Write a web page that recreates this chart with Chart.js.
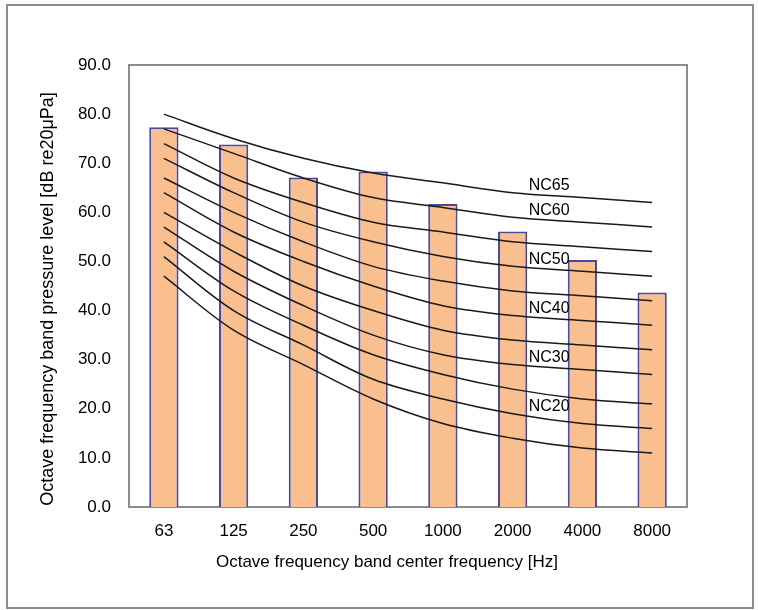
<!DOCTYPE html>
<html>
<head>
<meta charset="utf-8">
<script src="https://cdn.jsdelivr.net/npm/chart.js@4/dist/chart.umd.min.js"></script>
<style>
  body { margin: 0; background: #fff; }
  #wrap { position: relative; width: 758px; height: 610px; }
  #frame { position: absolute; left: 6px; top: 4px; width: 744px; height: 601px; border: 2px solid #8c8c8c; pointer-events: none; }
  canvas { position: absolute; left: 0; top: 0; }
</style>
</head>
<body>
<div id="wrap">
  <canvas id="nc" width="758" height="610"></canvas>
  <div id="frame"></div>
</div>
<script>
// octave bands
const bands = ["63", "125", "250", "500", "1000", "2000", "4000", "8000"]

// measured levels (bars)
const measured = [77.3, 73.8, 67.1, 68.3, 61.7, 56.1, 50.3, 43.7]

// NC curves
const nc15 = [47, 36, 29, 22, 17, 14, 12, 11]
const nc20 = [51, 40, 33, 26, 22, 19, 17, 16]
const nc25 = [54, 44, 37, 31, 27, 24, 22, 21]
const nc30 = [57, 48, 41, 35, 31, 29, 28, 27]
const nc35 = [60, 52, 45, 40, 36, 34, 33, 32]
const nc40 = [64, 56, 50, 45, 41, 39, 38, 37]
const nc45 = [67, 60, 54, 49, 46, 44, 43, 42]
const nc50 = [71, 64, 58, 54, 51, 49, 48, 47]
const nc55 = [74, 67, 62, 58, 56, 54, 53, 52]
const nc60 = [77, 72, 67, 63, 61, 59, 58, 57]
const nc65 = [80, 75, 71, 68, 66, 64, 63, 62]

const curves = [nc15, nc20, nc25, nc30, nc35, nc40, nc45, nc50, nc55, nc60, nc65]
const labelled = [65, 60, 50, 40, 30, 20]

const xTitle = 'Octave frequency band center frequency [Hz]'
const yTitle = 'Octave frequency band pressure level [dB re20μPa]'

const family = "'Liberation Sans', Arial, sans-serif"
const tickFont = { family: family, size: 17 }

const datasets = [{
    type: 'bar',
    data: measured,
    backgroundColor: '#f9bf8f',
    borderColor: '#4a4a9c',
    borderWidth: 2,
    borderSkipped: 'bottom',
    categoryPercentage: 1,
    barPercentage: 0.42,
    order: 2
}]

curves.forEach(c => datasets.push({
    type: 'line',
    data: c,
    borderColor: '#1a1a1a',
    borderWidth: 1.5,
    pointRadius: 0,
    tension: 0.35,
    fill: false,
    order: 1
}))

// plot box (gray), axis titles, NC labels
const extras = {
    id: 'extras',
    beforeDatasetsDraw(chart) {
        const {ctx, chartArea: a} = chart
        ctx.save()
        ctx.strokeStyle = '#8c8c8c'
        ctx.lineWidth = 2
        ctx.strokeRect(a.left, a.top, a.right - a.left, a.bottom - a.top)
        ctx.restore()
    },
    afterDatasetsDraw(chart) {
        const {ctx, chartArea: a} = chart
        ctx.save()
        ctx.fillStyle = '#000'
        ctx.textBaseline = 'middle'

        // NC labels
        const x = chart.scales.x.getPixelForValue(5) + 16
        ctx.font = "16px " + family
        ctx.textAlign = 'left'
        labelled.forEach(n => {
            ctx.fillText('NC' + n, x, chart.scales.y.getPixelForValue(n) - 2)
        })

        // axis titles
        ctx.textAlign = 'center'
        ctx.font = "17px " + family
        ctx.fillText(xTitle, (a.left + a.right) / 2 - 21, a.bottom + 55)
        ctx.translate(48, (a.top + a.bottom) / 2 + 13)
        ctx.rotate(-Math.PI / 2)
        ctx.font = "18px " + family
        ctx.fillText(yTitle, 0, 0)
        ctx.restore()
    }
}

new Chart(document.querySelector('#nc'), {
    type: 'bar',
    data: { labels: bands, datasets: datasets },
    options: {
        responsive: false,
        animation: false,
        layout: { padding: { left: 30, top: 65, right: 71, bottom: 39 } },
        plugins: { legend: { display: false }, tooltip: { enabled: false } },
        scales: {
            x: {
                grid: { display: false, drawTicks: false },
                border: { display: true, color: '#000', width: 2 },
                ticks: { color: '#000', font: tickFont, padding: 14 },
                afterFit: s => { s.height = 64 }
            },
            y: {
                min: 0,
                max: 90,
                grid: { display: false, drawTicks: false },
                border: { display: true, color: '#000', width: 2 },
                ticks: { stepSize: 10, color: '#000', font: tickFont, padding: 18, callback: v => v.toFixed(1) },
                afterFit: s => { s.width = 99 }
            }
        }
    },
    plugins: [extras]
})
</script>
</body>
</html>
